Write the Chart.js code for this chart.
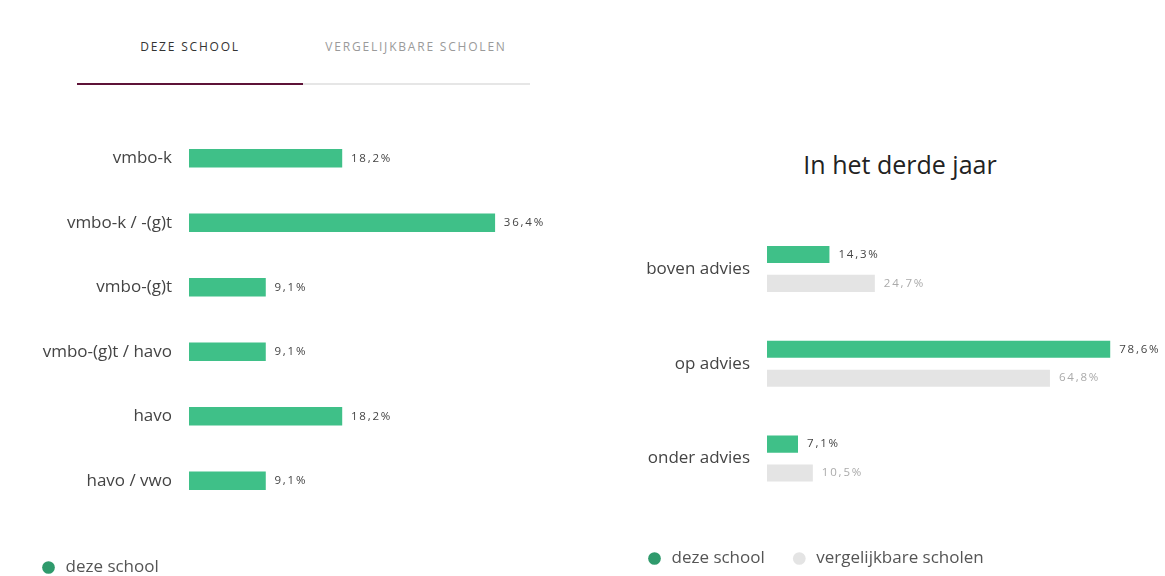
<!DOCTYPE html>
<html>
<head>
<meta charset="utf-8">
<script src="https://cdn.jsdelivr.net/npm/chart.js@4.4.1/dist/chart.umd.min.js"></script>
<style>
  html, body { margin: 0; padding: 0; background: #fff; overflow: hidden; }
  body { width: 1165px; height: 576px; position: relative; font-family: "Open Sans", Lato, sans-serif; }
  .tab { position: absolute; top: 38px; font-size: 12px; letter-spacing: 1.8px; text-align: center; width: 226px; }
  .tab.on { left: 77px; color: #333; }
  .tab.off { left: 303px; color: #9a9a9a; }
  .line { position: absolute; top: 83px; height: 2px; }
  .line.on { left: 77px; width: 226px; background: #5e1338; }
  .line.off { left: 303px; width: 227px; background: #e6e6e6; }
  #title { position: absolute; left: 700px; width: 400px; top: 147px; text-align: center; font-size: 25px; color: #222; }
  #left { position: absolute; left: 0; top: 100px; }
  #right { position: absolute; left: 620px; top: 200px; }
</style>
</head>
<body>
<div class="tab on">DEZE SCHOOL</div>
<div class="tab off">VERGELIJKBARE SCHOLEN</div>
<div class="line on"></div>
<div class="line off"></div>
<div id="title">In het derde jaar</div>
<div id="left"><canvas id="leftChart" width="580" height="496"></canvas></div>
<div id="right"><canvas id="rightChart" width="545" height="387"></canvas></div>
<script>
(function(){
  // data
  const adviesLabels = ['vmbo-k', 'vmbo-k / -(g)t', 'vmbo-(g)t', 'vmbo-(g)t / havo', 'havo', 'havo / vwo'];
  const adviesDezeSchool = [18.2, 36.4, 9.1, 9.1, 18.2, 9.1];

  const derdeJaarLabels = ['boven advies', 'op advies', 'onder advies'];
  const derdeJaarDezeSchool = [14.3, 78.6, 7.1];
  const derdeJaarVergelijkbaar = [24.7, 64.8, 10.5];

  const GREEN = '#3fc088';
  const GREEN_DOT = '#2f9a6c';
  const GREY = '#e4e4e4';
  const FONT = '"Open Sans", Lato, sans-serif';

  Chart.defaults.font.family = FONT;
  Chart.defaults.color = '#444';
  Chart.defaults.animation = false;

  // draws the value next to the end of each bar
  const valueLabels = {
    id: 'valueLabels',
    afterDatasetsDraw(chart) {
      const ctx = chart.ctx;
      ctx.save();
      ctx.font = '11.5px ' + FONT;
      ctx.letterSpacing = '1.8px';
      ctx.textBaseline = 'middle';
      ctx.textAlign = 'left';
      chart.data.datasets.forEach((ds, i) => {
        const meta = chart.getDatasetMeta(i);
        ctx.fillStyle = ds.valueColor;
        meta.data.forEach((bar, j) => {
          const txt = ds.data[j].toFixed(1).replace('.', ',') + '%';
          ctx.fillText(txt, bar.x + 9, bar.y);
        });
      });
      ctx.restore();
    }
  };

  const legendOpts = (pad, spaceAbove) => ({
    position: 'bottom',
    align: 'start',
    title: { display: true, text: ' ', font: { size: 1, lineHeight: 1 }, padding: { top: spaceAbove, bottom: 0 } },
    labels: {
      usePointStyle: true,
      pointStyle: 'circle',
      boxWidth: 17,
      boxHeight: 9,
      padding: pad,
      color: '#555',
      font: { size: 17 },
      generateLabels(chart) {
        const items = Chart.defaults.plugins.legend.labels.generateLabels(chart);
        items.forEach(it => {
          if (it.fillStyle === GREEN) { it.fillStyle = GREEN_DOT; it.strokeStyle = GREEN_DOT; }
          it.lineWidth = 0;
        });
        return items;
      }
    }
  });

  // category axis on the left: gap between label and bar via (hidden) tick length
  const catAxis = (w) => ({
    grid: { display: false, drawTicks: true, tickLength: 17 },
    border: { display: false },
    ticks: { padding: 0, color: '#444', font: { size: 17 } },
    afterFit(scale) { scale.width = w; }
  });

  new Chart(document.getElementById('leftChart'), {
    type: 'bar',
    data: {
      labels: adviesLabels,
      datasets: [{
        label: 'deze school',
        data: adviesDezeSchool,
        backgroundColor: GREEN,
        borderWidth: 0,
        barThickness: 18,
        valueColor: '#444'
      }]
    },
    options: {
      indexAxis: 'y',
      responsive: false,
      layout: { padding: { left: 16, right: 55, top: 26, bottom: 10 } },
      plugins: {
        legend: legendOpts(24, 21),
        tooltip: { enabled: false }
      },
      scales: {
        x: { display: false, min: 0, max: 40 },
        y: catAxis(173)
      }
    },
    plugins: [valueLabels]
  });

  new Chart(document.getElementById('rightChart'), {
    type: 'bar',
    data: {
      labels: derdeJaarLabels,
      datasets: [{
        label: 'deze school',
        data: derdeJaarDezeSchool,
        backgroundColor: GREEN,
        borderWidth: 0,
        valueColor: '#444'
      }, {
        label: 'vergelijkbare scholen',
        data: derdeJaarVergelijkbaar,
        backgroundColor: GREY,
        borderWidth: 0,
        valueColor: '#aaa'
      }]
    },
    options: {
      indexAxis: 'y',
      responsive: false,
      categoryPercentage: 0.61,
      barPercentage: 0.59,
      layout: { padding: { left: 0, right: 5, top: 21.5, bottom: 10 } },
      plugins: {
        legend: legendOpts(26, 17),
        tooltip: { enabled: false }
      },
      scales: {
        x: { display: false, min: 0, max: 90 },
        y: catAxis(147)
      }
    },
    plugins: [valueLabels]
  });
})();
</script>
</body>
</html>
